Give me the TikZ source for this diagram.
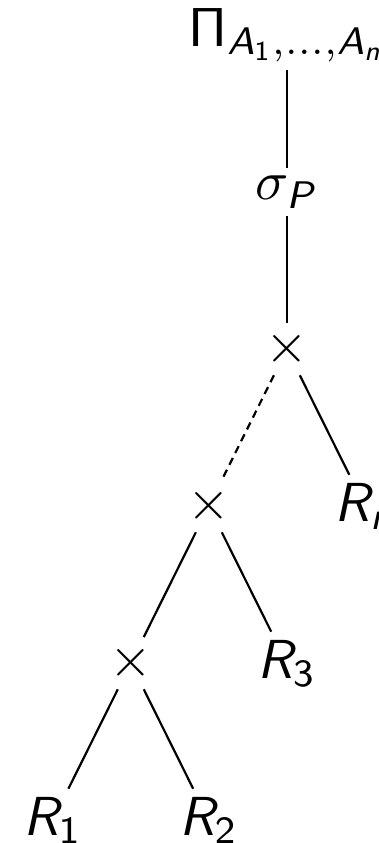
\documentclass[tikz,border=0pt]{standalone}
\usetikzlibrary{positioning}
% sans math as in slides
\DeclareMathAlphabet{\msf}{OT1}{cmss}{m}{n}
\DeclareMathAlphabet{\msfi}{OT1}{cmss}{m}{sl}

\begin{document}
\begin{tikzpicture}[
  lbl/.style={inner sep=1.3pt},
  op/.style={inner sep=0pt, minimum width=5pt, minimum height=9.1pt},
  skipped/.style={dash pattern=on 1.4pt off 1pt},
  node distance=28.57pt and 14.2pt, on grid
]
  \useasboundingbox (0,0) rectangle (68.8pt,-153.4pt);

  \node[lbl] (proj) at (52.2pt,-6.4pt)
    {$\msf{\Pi}_{\msfi{A}_{\msf{1}},\ldots,\msfi{A}_{\msfi{n}}}$};
  \node[lbl, below=of proj] (sel) {$\sigma_{\msfi{P}}$};
  \node[op, below=of sel] (joinc) {$\times$};
  \node[op, below left=of joinc] (joinb) {$\times$};
  \node[lbl, below right=of joinc] (rn) {$\msfi{R}_{\msfi{n}}$};
  \node[op, below left=of joinb] (joina) {$\times$};
  \node[lbl, below right=of joinb] (r3) {$\msfi{R}_{\msf{3}}$};
  \node[lbl, below left=of joina] (r1) {$\msfi{R}_{\msf{1}}$};
  \node[lbl, below right=of joina] (r2) {$\msfi{R}_{\msf{2}}$};

  \draw (proj) -- (sel);
  \draw (sel) -- (joinc);
  \draw[skipped] (joinc) -- (joinb);
  \draw (joinc) -- (rn);
  \draw (joinb) -- (joina);
  \draw (joinb) -- (r3);
  \draw (joina) -- (r1);
  \draw (joina) -- (r2);
\end{tikzpicture}
\end{document}
